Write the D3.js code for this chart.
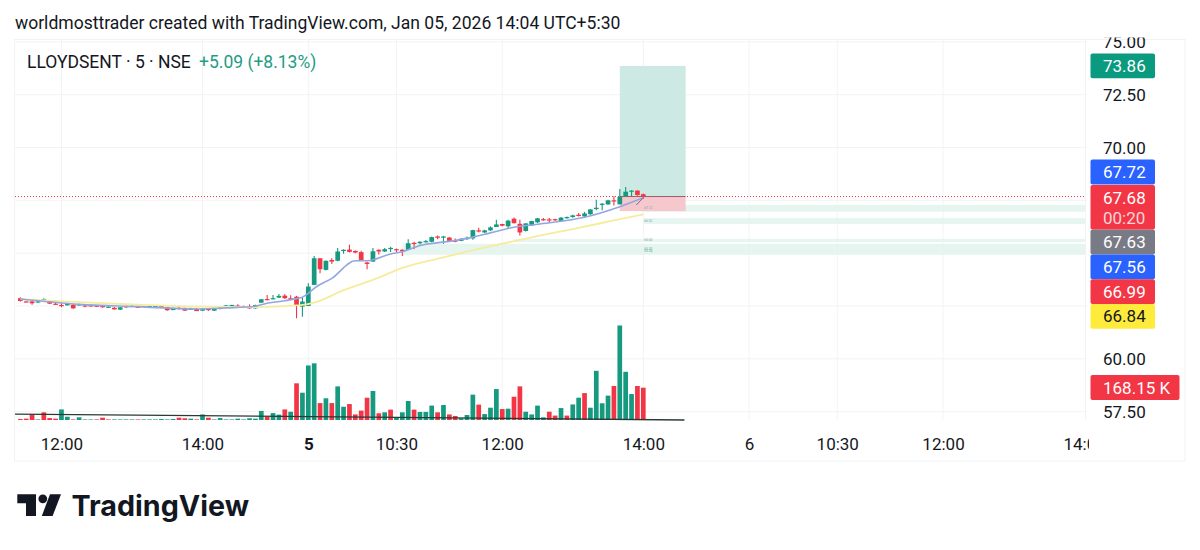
<!DOCTYPE html>
<html>
<head>
<meta charset="utf-8">
<script src="https://d3js.org/d3.v7.min.js"></script>
<style>
  html, body { margin: 0; padding: 0; background: #fff; overflow: hidden; }
  text { font-family: Roboto, sans-serif; }
</style>
</head>
<body>
<div id="chart"></div>
<script>
// bars are counted from the first candle in view, 5 minute spacing
const opens = [62.87,62.72,62.72,62.69,62.75,62.74,62.61,62.55,62.53,62.56,62.55,62.53,62.53,62.52,62.50,62.44,62.42,62.33,62.49,62.47,62.47,62.47,62.47,62.47,62.50,62.45,62.31,62.41,62.41,62.36,62.37,62.28,62.36,62.28,62.36,62.52,62.52,62.52,62.50,62.47,62.39,62.66,62.83,62.83,62.90,62.99,62.87,62.94,62.47,
  62.50,63.50,64.76,64.21,64.68,64.64,65.13,65.17,65.11,65.05,64.56,64.60,65.16,65.08,65.22,65.19,65.16,65.16,65.49,65.47,65.54,65.54,65.79,65.76,65.74,65.60,65.58,65.66,65.70,66.08,65.98,
  66.08,66.24,66.38,66.27,66.63,66.39,66.05,66.31,66.46,66.61,66.60,66.61,66.52,66.68,66.71,66.82,66.74,66.84,67.09,67.31,67.31,67.50,67.31,67.69,67.91,67.96,67.79];
const highs = [62.91,62.72,62.72,62.74,62.87,62.79,62.66,62.66,62.66,62.60,62.61,62.58,62.56,62.55,62.52,62.49,62.44,62.45,62.52,62.55,62.49,62.55,62.52,62.52,62.55,62.47,62.42,62.47,62.42,62.42,62.39,62.39,62.37,62.37,62.45,62.55,62.56,62.58,62.52,62.58,62.56,62.83,63.02,63.02,63.07,63.07,63.01,62.98,62.91,
  63.58,64.87,64.76,64.65,64.76,65.24,65.19,65.40,65.13,65.11,64.60,65.24,65.19,65.24,65.30,65.22,65.19,65.66,65.54,65.57,65.62,65.79,65.84,65.82,65.76,65.70,65.71,65.79,66.11,66.20,66.11,
  66.27,66.58,66.39,66.58,66.69,66.58,66.42,66.54,66.66,66.66,66.66,66.63,66.71,66.74,66.82,66.90,66.95,67.09,67.53,67.37,67.53,67.69,68.04,68.13,67.98,67.98,67.82];
const lows = [62.71,62.68,62.56,62.66,62.74,62.60,62.56,62.44,62.52,62.37,62.53,62.44,62.49,62.45,62.42,62.42,62.33,62.31,62.42,62.45,62.44,62.45,62.45,62.45,62.44,62.28,62.30,62.34,62.28,62.31,62.26,62.26,62.26,62.26,62.34,62.50,62.50,62.47,62.45,62.37,62.37,62.64,62.77,62.82,62.88,62.83,62.80,61.92,61.99,
  62.50,63.50,64.05,64.18,64.49,64.62,64.97,65.03,65.00,64.68,64.24,64.60,64.94,65.06,65.06,65.06,64.87,65.14,65.19,65.41,65.51,65.52,65.66,65.44,65.57,65.52,65.57,65.63,65.63,65.98,65.95,
  66.05,66.24,66.27,66.19,66.41,65.84,66.03,66.30,66.43,66.54,66.43,66.54,66.50,66.63,66.68,66.74,66.69,66.82,67.03,67.03,67.28,67.25,67.31,67.67,67.69,67.72,67.58];
const closes = [62.74,62.69,62.63,62.72,62.83,62.61,62.58,62.53,62.64,62.39,62.58,62.50,62.50,62.47,62.44,62.47,62.34,62.44,62.44,62.50,62.45,62.53,62.50,62.50,62.47,62.30,62.41,62.37,62.28,62.37,62.26,62.37,62.33,62.36,62.44,62.53,62.55,62.49,62.47,62.39,62.55,62.82,62.79,62.87,62.98,62.87,62.82,62.50,62.71,
  63.42,64.76,64.24,64.64,64.60,65.08,65.16,65.06,65.03,64.68,64.49,65.09,65.08,65.19,65.25,65.14,65.09,65.47,65.44,65.54,65.57,65.76,65.73,65.79,65.58,65.55,65.68,65.73,66.09,66.03,66.08,
  66.22,66.36,66.30,66.54,66.42,65.98,66.41,66.52,66.65,66.57,66.57,66.57,66.68,66.71,66.79,66.76,66.88,67.07,67.15,67.34,67.50,67.45,67.66,67.91,67.96,67.75,67.68];

// volume in thousands, volumeUp keeps the colour seen on each volume bar
const volumes = [5,7,28,3,40,10,7,55,17,3,14,3,3,3,12,3,3,3,3,3,3,3,3,3,5,3,5,12,9,7,3,29,12,3,10,3,3,7,3,9,7,47,17,36,28,55,43,191,142,
  284,295,88,113,88,175,69,83,29,49,116,151,35,40,54,14,40,99,54,42,42,75,40,78,29,21,9,26,132,80,31,
  64,161,57,59,121,175,43,29,75,14,43,23,62,23,81,116,140,64,256,87,127,177,492,251,135,177,168.15];
const volumeUp = [0,0,0,1,0,0,0,1,1,0,1,1,1,0,0,0,1,1,1,1,0,1,1,1,1,1,1,0,0,1,0,1,0,1,1,1,1,1,1,1,1,1,0,1,1,0,1,0,1,
  1,1,0,1,0,1,1,0,0,0,0,1,0,1,0,1,1,1,0,1,1,1,0,1,0,0,1,1,1,0,1,
  1,1,0,1,0,0,1,1,1,1,0,0,1,0,1,1,0,1,1,1,1,0,1,1,1,0,0];

const blueBars = [0,10,20,30,35,40,42,45,47,48,49,50,53,57,59,63,65,68,73,76,80,84,88,96,102,106];
const blueValues = [62.83,62.58,62.47,62.36,62.41,62.49,62.63,62.75,62.85,62.92,63.10,63.34,63.81,64.64,64.64,64.96,65.07,65.36,65.56,65.70,65.96,66.23,66.37,66.70,67.20,67.62];
const yellowBars = [0,10,20,30,40,47,48,50,55,61,64,72,78,84,90,95,101,106];
const yellowValues = [62.83,62.68,62.56,62.47,62.45,62.53,62.55,62.66,63.25,63.84,64.20,64.80,65.20,65.57,65.92,66.20,66.55,66.84];
const volMaBars = [-1,113];
const volMaValues = [31,0];
const arrowBars = [104.8,106];
const arrowValues = [67.28,67.62];

const priceTicks = [57.5,60,62.5,65,67.5,70,72.5,75];
const priceLabelTicks = [57.5,60,70,72.5,75];
const timeTicks = [7,31,49,64,82,106,124,139,157,181];
const timeLabels = ["12:00","14:00","5","10:30","12:00","14:00","6","10:30","12:00","14:00"];
const boldTimeLabels = ["5"];

const lastPrice = 67.68;
const positionEntry = 67.68;
const positionTarget = 73.86;
const positionStop = 66.99;
const positionBars = [102,113.2];

const zoneTops = [67.28,66.66,65.67,65.44,65.12];
const zoneBottoms = [66.96,66.38,65.53,64.92,65.07];
const zoneStarts = [106,106,84,65,65];
const zoneNotes = ["67.12","66.52","65.60","65.30","65.04"];

const tagLabels = ["73.86","67.72","67.63","67.56","66.99","66.84"];
const tagCentres = [65.8,172,242,266.8,291.6,316.4];
const tagFills = ["#0a9a80","#2962ff","#787b86","#2962ff","#f23645","#ffeb3b"];
const tagInks = ["#fff","#fff","#fff","#fff","#fff","#131722"];

const green = "#159a80", red = "#f23645";
const width = 1200, height = 550;
const plot = {left: 15, right: 1085, top: 40, volBottom: 420, bottom: 461, frameRight: 1185};

const x = d3.scaleLinear().domain([49,106]).range([308.3,643.3]);
const y = d3.scaleLinear().domain([57.5,70]).range([411.7,147.5]);
const yVol = d3.scaleLinear().domain([0,168.15]).range([420,387.7]);
const barW = 4.7;

const svg = d3.select("#chart").append("svg")
  .attr("width", width).attr("height", height)
  .style("display", "block");

svg.append("defs").append("clipPath").attr("id", "plotClip")
  .append("rect").attr("x", plot.left).attr("y", plot.top)
  .attr("width", plot.right - plot.left).attr("height", plot.volBottom + 1 - plot.top);
svg.select("defs").append("clipPath").attr("id", "timeClip")
  .append("rect").attr("x", plot.left).attr("y", plot.volBottom)
  .attr("width", 1089 - plot.left).attr("height", plot.bottom - plot.volBottom);
svg.select("defs").append("clipPath").attr("id", "priceClip")
  .append("rect").attr("x", plot.right).attr("y", 37.5)
  .attr("width", 110).attr("height", 400);

// header
svg.append("text").attr("x", 15).attr("y", 28.5)
  .attr("font-size", 17.55).attr("fill", "#131722")
  .text("worldmosttrader created with TradingView.com, Jan 05, 2026 14:04 UTC+5:30");

// frame and dividers
svg.append("rect").attr("x", 14.5).attr("y", 39.5)
  .attr("width", plot.frameRight - 14.5).attr("height", plot.bottom - 39.5)
  .attr("fill", "none").attr("stroke", "#f0f2f5");

// grid
const grid = svg.append("g").attr("stroke", "#f1f3f6").attr("stroke-width", 1);
grid.selectAll(".h").data(priceTicks).enter().append("line")
  .attr("x1", plot.left).attr("x2", plot.right + 2)
  .attr("y1", d => y(d)).attr("y2", d => y(d));
grid.selectAll(".v").data(timeTicks.filter(d => x(d) < plot.right - 3)).enter().append("line")
  .attr("x1", d => x(d)).attr("x2", d => x(d))
  .attr("y1", plot.top).attr("y2", plot.volBottom);
grid.append("line").attr("x1", plot.right + 0.5).attr("x2", plot.right + 0.5)
  .attr("y1", plot.top).attr("y2", plot.volBottom);

const chart = svg.append("g").attr("clip-path", "url(#plotClip)");

// pale zones running to the right edge
chart.append("g").selectAll("rect").data(zoneTops).enter().append("rect")
  .attr("x", (d, i) => x(zoneStarts[i]))
  .attr("width", (d, i) => plot.right - x(zoneStarts[i]))
  .attr("y", d => y(d))
  .attr("height", (d, i) => y(zoneBottoms[i]) - y(d))
  .attr("fill", "#e3f3ef").attr("fill-opacity", 0.85);

// long position box
const px0 = x(positionBars[0]), px1 = x(positionBars[1]);
chart.append("rect").attr("x", px0).attr("width", px1 - px0)
  .attr("y", y(positionTarget)).attr("height", y(positionEntry) - y(positionTarget))
  .attr("fill", "#cde9e3");
chart.append("rect").attr("x", px0).attr("width", px1 - px0)
  .attr("y", y(positionEntry)).attr("height", y(positionStop) - y(positionEntry))
  .attr("fill", "#f6c8cd");
chart.append("line").attr("x1", px0).attr("x2", px1)
  .attr("y1", y(positionEntry)).attr("y2", y(positionEntry))
  .attr("stroke", "#6f7479").attr("stroke-width", 1);

// tiny zone labels
chart.append("g").selectAll("text").data(zoneNotes).enter().append("text")
  .attr("x", x(106) + 1).attr("y", (d, i) => (y(zoneTops[i]) + y(zoneBottoms[i])) / 2 + 1)
  .attr("font-size", 3.2).attr("fill", "#5fae9c")
  .text(d => d);

// volume
chart.append("g").selectAll("rect").data(volumes).enter().append("rect")
  .attr("x", (d, i) => x(i) - barW / 2)
  .attr("width", barW)
  .attr("y", d => yVol(d))
  .attr("height", d => yVol(0) - yVol(d))
  .attr("fill", (d, i) => volumeUp[i] ? green : red);

const volMaLine = d3.line().x(d => x(d[0])).y(d => yVol(d[1]));
chart.append("path").datum(d3.zip(volMaBars, volMaValues))
  .attr("d", volMaLine).attr("fill", "none")
  .attr("stroke", "#2a3a38").attr("stroke-width", 1.3);

// last price line
chart.append("line").attr("x1", plot.left).attr("x2", plot.right)
  .attr("y1", y(lastPrice)).attr("y2", y(lastPrice))
  .attr("stroke", red).attr("stroke-width", 1).attr("stroke-dasharray", "1 2");

// candles
const candles = chart.append("g").selectAll("g").data(opens).enter().append("g")
  .attr("fill", (d, i) => closes[i] >= d ? green : red)
  .attr("stroke", (d, i) => closes[i] >= d ? green : red);
candles.append("line")
  .attr("x1", (d, i) => x(i)).attr("x2", (d, i) => x(i))
  .attr("y1", (d, i) => y(highs[i])).attr("y2", (d, i) => y(lows[i]))
  .attr("stroke-width", 1.1);
candles.append("rect")
  .attr("x", (d, i) => x(i) - barW / 2)
  .attr("width", barW)
  .attr("y", (d, i) => y(Math.max(d, closes[i])))
  .attr("height", (d, i) => Math.max(1.2, Math.abs(y(d) - y(closes[i]))))
  .attr("stroke", "none");

// moving averages
const maLine = d3.line().x(d => x(d[0])).y(d => y(d[1])).curve(d3.curveMonotoneX);
chart.append("path").datum(d3.zip(yellowBars, yellowValues))
  .attr("d", maLine).attr("fill", "none")
  .attr("stroke", "#f5ec9c").attr("stroke-width", 1.8);
chart.append("path").datum(d3.zip(blueBars, blueValues))
  .attr("d", maLine).attr("fill", "none")
  .attr("stroke", "#92a6e2").attr("stroke-width", 1.6);
chart.append("path").datum(d3.zip(arrowBars, arrowValues))
  .attr("d", maLine).attr("fill", "none")
  .attr("stroke", "#6d6f8a").attr("stroke-width", 1);

// legend
const legend = svg.append("text").attr("x", 27).attr("y", 67.5).attr("font-size", 17.5);
legend.append("tspan").attr("fill", "#131722").text("LLOYDSENT · 5 · NSE");
legend.append("tspan").attr("x", 199).attr("fill", "#1f9c84").text("+5.09 (+8.13%)");

// axes
const priceAxis = svg.append("g").attr("clip-path", "url(#priceClip)")
  .append("g").attr("transform", "translate(1092,0.3)")
  .call(d3.axisRight(y).tickValues(priceLabelTicks).tickFormat(d3.format(".2f")).tickSize(0).tickPadding(11));
priceAxis.select(".domain").remove();
priceAxis.selectAll("text").attr("font-size", 17).attr("fill", "#131722")
  .style("font-family", "Roboto, sans-serif");

const timeAxis = svg.append("g").attr("clip-path", "url(#timeClip)")
  .append("g").attr("transform", "translate(0,436)")
  .call(d3.axisBottom(x).tickValues(timeTicks).tickFormat((d, i) => timeLabels[i]).tickSize(0).tickPadding(0));
timeAxis.select(".domain").remove();
timeAxis.selectAll("text").attr("font-size", 17).attr("fill", "#131722")
  .attr("dy", "0.85em")
  .attr("font-weight", (d, i) => boldTimeLabels.includes(timeLabels[i]) ? 700 : 400)
  .style("font-family", "Roboto, sans-serif");

// price tags on the axis
const tagX = 1090.5, tagW = 64.5, tagH = 24.8, tagTextX = 1103;
const tags = svg.append("g").selectAll("g").data(tagLabels).enter().append("g");
tags.append("rect").attr("x", tagX).attr("width", tagW).attr("height", tagH).attr("rx", 2)
  .attr("y", (d, i) => tagCentres[i] - tagH / 2)
  .attr("fill", (d, i) => tagFills[i]);
tags.append("text").attr("x", tagTextX).attr("y", (d, i) => tagCentres[i] + 6)
  .attr("font-size", 17).attr("fill", (d, i) => tagInks[i]).text(d => d);

// last price tag with countdown
svg.append("rect").attr("x", tagX).attr("y", 185).attr("width", tagW).attr("height", 44.4)
  .attr("rx", 2).attr("fill", red);
svg.append("text").attr("x", tagTextX).attr("y", 203.5).attr("font-size", 17).attr("fill", "#fff")
  .text(d3.format(".2f")(lastPrice));
svg.append("text").attr("x", tagTextX).attr("y", 223.5).attr("font-size", 17).attr("fill", "#fbd5d9")
  .text("00:20");

// volume tag
svg.append("rect").attr("x", tagX).attr("y", 375).attr("width", 89).attr("height", 25)
  .attr("rx", 2).attr("fill", red);
svg.append("text").attr("x", tagTextX).attr("y", 393.5).attr("font-size", 17).attr("fill", "#fff")
  .text("168.15 K");

// logo
const logo = svg.append("g").attr("fill", "#131722");
logo.append("path").attr("d", "M17.3 494.3H36V516H26V503.3H17.3Z");
logo.append("circle").attr("cx", 42.8).attr("cy", 498.8).attr("r", 4.4);
logo.append("path").attr("d", "M50 494.3H61L52.6 516H41.8Z");
svg.append("text").attr("x", 71.5).attr("y", 516).attr("font-size", 28.7)
  .attr("font-weight", 700).attr("fill", "#131722")
  .style("font-family", "Inter, sans-serif").text("TradingView");
</script>
</body>
</html>
